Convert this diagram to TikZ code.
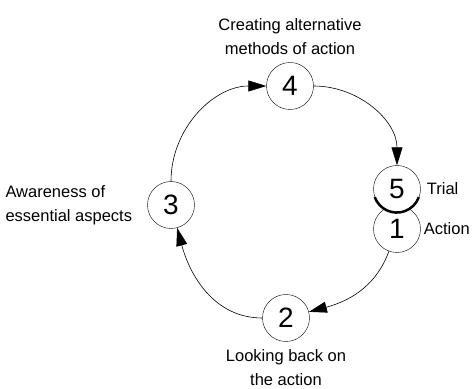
\documentclass[tikz,border=0pt]{standalone}
\usepackage{fontspec}
\setmainfont{Liberation Sans}
\usepackage{tikz}
\usetikzlibrary{arrows.meta,positioning}

\begin{document}
\begin{tikzpicture}[
  x=1pt,y=1pt,
  font=\fontsize{16.5}{24}\selectfont,
  node distance=4pt,
  stage/.style={draw,circle,fill=white,minimum size=47pt,inner sep=0pt,font=\fontsize{28}{28}\selectfont},
  caption/.style={inner sep=1pt},
  arr/.style={-{Triangle[length=18pt,width=11pt]},semithick}
]
\useasboundingbox (0,0) rectangle (475,389);
\node[stage] (n4) at (290,303) {4};
\node[stage] (n3) at (171,184) {3};
\node[stage] (n2) at (286,71) {2};
\node[stage] (n1) at (397,160) {1};
\node[stage] (n5) at (397,200) {5};
\draw[line width=2.5pt] (n5.200) arc[start angle=200,end angle=340,radius=23.5pt];
\node[caption,align=center,above=6pt of n4] (t4) {Creating alternative\\methods of action};
\node[caption,align=left,left=14pt of n3] (t3) {Awareness of\\essential aspects};
\node[caption,right=5pt of n5] (t5) {Trial};
\node[caption,right=2pt of n1] (t1) {Action};
\node[caption,align=center,below=7pt of n2] (t2) {Looking back on\\the action};
\foreach \a/\b/\o/\i in {n3/n4/90/180,n4/n5/0/90,n1/n2/-110/15,n2/n3/180/-75}
  \draw[arr] (\a) to[out=\o,in=\i] (\b);
\end{tikzpicture}
\end{document}
